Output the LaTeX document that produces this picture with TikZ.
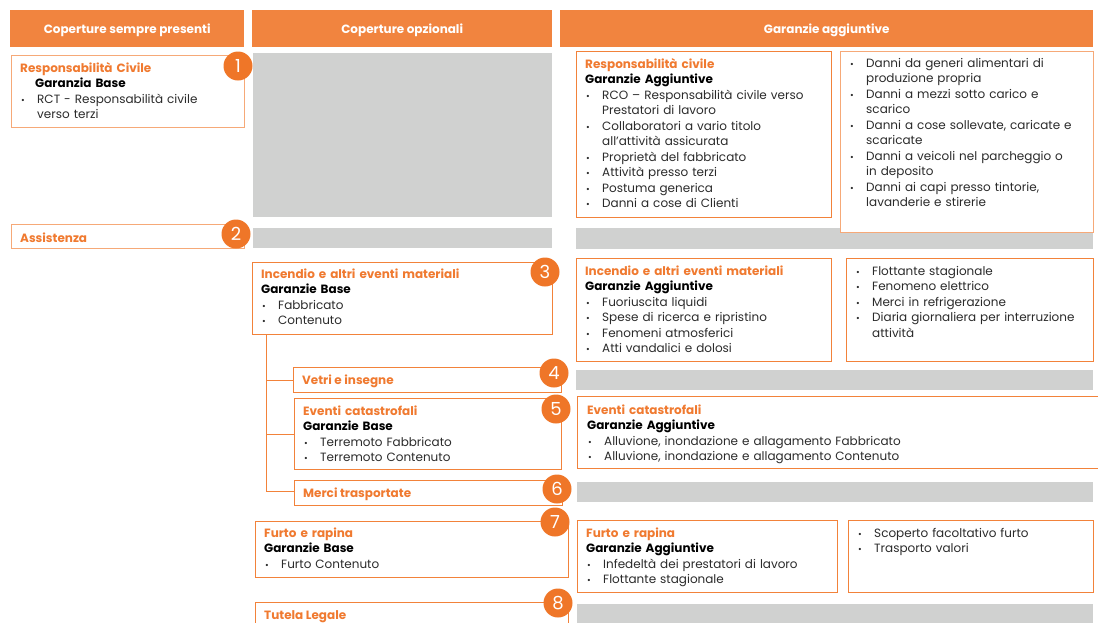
\documentclass[tikz,border=0pt]{standalone}
\usepackage{fontspec}
\setmainfont{Poppins}
\usepackage{tikz}
\usetikzlibrary{positioning}
\usepackage{xcolor}

\setlength{\parindent}{0pt}
\newcommand{\covtitle}[1]{{\color{ttlorange}\bfseries #1}\par}
\newcommand{\covsub}[1]{{\color{black}\bfseries #1}\par}
\newcommand{\covitem}[1]{\hangindent=17pt\hangafter=1\makebox[17pt][l]{\hspace{1pt}{\fontsize{9}{9}\selectfont\textbullet}}#1\par}

\begin{document}
\begin{tikzpicture}[x=1pt, y=-1pt,
    header/.style={fill=hdrorange, text=white, anchor=north west, inner sep=0, minimum height=37, text depth=0.5, font=\fontsize{12}{14}\selectfont\bfseries},
    obox/.style={draw=boxorange, line width=1.1pt, fill=white, anchor=north west, inner sep=0},
    lbox/.style={obox, draw=lightorange},
    greybar/.style={fill=bargrey, anchor=north west, inner sep=0},
    num/.style={circle, fill=numorange, text=white, minimum size=29, inner sep=0, font=\fontsize{18}{18}\selectfont},
    btext/.style={anchor=base west, inner sep=0, align=left, text=txtgrey, font=\fontsize{12}{15.5}\selectfont},
    branch/.style={draw=boxorange, line width=0.9pt}]
    % Define colors of the orange theme
        \definecolor{hdrorange}{HTML}{F1843F}   % header bars
        \definecolor{boxorange}{HTML}{F2823A}   % box borders
        \definecolor{lightorange}{HTML}{F6A978} % lighter borders
        \definecolor{numorange}{HTML}{EF7628}   % number circles
        \definecolor{ttlorange}{HTML}{F07A30}   % box titles
        \definecolor{bargrey}{HTML}{D0D1D0}     % grey bars
        \definecolor{txtgrey}{HTML}{2B2B2B}     % item text

        \useasboundingbox (0,0) rectangle (1098,622);

        % Column headers
        \node[header, minimum width=234] (hsempre) at (10,10) {Coperture sempre presenti};
        \node[header, minimum width=300] (hopz) at (252,10) {Coperture opzionali};
        \node[header, minimum width=533] (hagg) at (560,10) {Garanzie aggiuntive};

        % Grey bars (nothing to add)
        \node[greybar, minimum width=299, minimum height=164] (gopz1) at (253,53) {};
        \node[greybar, minimum width=299, minimum height=20] (gopz2) at (253,228) {};
        \node[greybar, minimum width=517, minimum height=21] (gagg2) at (576,228) {};
        \node[greybar, minimum width=517, minimum height=20] (gagg4) at (576,370) {};
        \node[greybar, minimum width=516, minimum height=20] (gagg6) at (577,482) {};
        \node[greybar, minimum width=516, minimum height=20] (gagg8) at (577,604) {};

        % 1 - Responsabilita civile
        \node[lbox, minimum width=233, minimum height=72] (rcbase) at (11,55) {};
        \node[btext, text width=220] (rcbasetext) at (20,72) {\covtitle{Responsabilità Civile}\covsub{\hspace*{15pt}Garanzia Base}\covitem{RCT - Responsabilità civile\newline verso terzi}};
        \node[obox, minimum width=255, minimum height=166] (rcagg) at (576,51) {};
        \node[btext, text width=245] (rcaggtext) at (585,68) {\covtitle{Responsabilità civile}\covsub{Garanzie Aggiuntive}\covitem{RCO – Responsabilità civile verso\newline Prestatori di lavoro}\covitem{Collaboratori a vario titolo\newline all’attività assicurata}\covitem{Proprietà del fabbricato}\covitem{Attività presso terzi}\covitem{Postuma generica}\covitem{Danni a cose di Clienti}};
        \node[lbox, minimum width=253, minimum height=181] (rcagg2) at (840,51) {};
        \node[btext, text width=245] (rcagg2text) at (849,67) {\covitem{Danni da generi alimentari di\newline produzione propria}\covitem{Danni a mezzi sotto carico e\newline scarico}\covitem{Danni a cose sollevate, caricate e\newline scaricate}\covitem{Danni a veicoli nel parcheggio o\newline in deposito}\covitem{Danni ai capi presso tintorie,\newline lavanderie e stirerie}};
        \node[num] (n1) at (238,66) {1};

        % 2 - Assistenza
        \node[lbox, minimum width=233, minimum height=24] (assist) at (11,224) {};
        \node[btext] (assisttext) at (20,242) {\covtitle{Assistenza}};
        \node[num] (n2) at (236,234) {2};

        % 3 - Incendio
        \node[obox, minimum width=300, minimum height=72] (incbase) at (252,262) {};
        \node[btext, text width=280] (incbasetext) at (261,278) {\covtitle{Incendio e altri eventi materiali}\covsub{Garanzie Base}\covitem{Fabbricato}\covitem{Contenuto}};
        \node[obox, minimum width=255, minimum height=103] (incagg) at (576,258) {};
        \node[btext, text width=245] (incaggtext) at (585,275) {\covtitle{Incendio e altri eventi materiali}\covsub{Garanzie Aggiuntive}\covitem{Fuoriuscita liquidi}\covitem{Spese di ricerca e ripristino}\covitem{Fenomeni atmosferici}\covitem{Atti vandalici e dolosi}};
        \node[obox, minimum width=247, minimum height=103] (incagg2) at (846,258) {};
        \node[btext, text width=240] (incagg2text) at (855,275) {\covitem{Flottante stagionale}\covitem{Fenomeno elettrico}\covitem{Merci in refrigerazione}\covitem{Diaria giornaliera per interruzione\newline attività}};
        \node[num] (n3) at (545,272) {3};

        % 4 - Vetri
        \node[obox, minimum width=268, minimum height=25] (vetri) at (293,367) {};
        \node[btext] (vetritext) at (302,384) {\covtitle{Vetri e insegne}};
        \node[num] (n4) at (554,373) {4};

        % 5 - Eventi catastrofali
        \node[obox, minimum width=267, minimum height=71] (catbase) at (294,398) {};
        \node[btext, text width=250] (catbasetext) at (303,415) {\covtitle{Eventi catastrofali}\covsub{Garanzie Base}\covitem{Terremoto Fabbricato}\covitem{Terremoto Contenuto}};
        \node[obox, minimum width=540, minimum height=72] (catagg) at (577,396) {};
        \node[btext, text width=490] (cataggtext) at (587,414) {\covtitle{Eventi catastrofali}\covsub{Garanzie Aggiuntive}\covitem{Alluvione, inondazione e allagamento Fabbricato}\covitem{Alluvione, inondazione e allagamento Contenuto}};
        \node[num] (n5) at (556,409) {5};

        % 6 - Merci trasportate
        \node[obox, minimum width=268, minimum height=25] (merci) at (294,480) {};
        \node[btext] (mercitext) at (303,497) {\covtitle{Merci trasportate}};
        \node[num] (n6) at (557,489) {6};

        % Branches from Incendio to 4, 5 and 6
        \coordinate (trunk) at (266,491);
        \draw[branch] (incbase.south west -| trunk) -- (trunk) -- (trunk -| merci.west);
        \draw[branch] (vetri.west -| trunk) -- (vetri.west);
        \draw[branch] (catbase.west -| trunk) -- (catbase.west);

        % 7 - Furto e rapina
        \node[obox, minimum width=313, minimum height=56] (furtobase) at (255,521) {};
        \node[btext, text width=290] (furtobasetext) at (264,537) {\covtitle{Furto e rapina}\covsub{Garanzie Base}\covitem{Furto Contenuto}};
        \node[obox, minimum width=260, minimum height=72] (furtoagg) at (577,520) {};
        \node[btext, text width=250] (furtoaggtext) at (586,537) {\covtitle{Furto e rapina}\covsub{Garanzie Aggiuntive}\covitem{Infedeltà dei prestatori di lavoro}\covitem{Flottante stagionale}};
        \node[obox, minimum width=245, minimum height=72] (furtoagg2) at (848,520) {};
        \node[btext, text width=235] (furtoagg2text) at (857,537) {\covitem{Scoperto facoltativo furto}\covitem{Trasporto valori}};
        \node[num] (n7) at (555,522) {7};

        % 8 - Tutela legale
        \node[obox, minimum width=313, minimum height=30] (tutela) at (255,602) {};
        \node[btext] (tutelatext) at (264,619) {\covtitle{Tutela Legale}};
        \node[num] (n8) at (558,603) {8};

    \end{tikzpicture}
\end{document}
